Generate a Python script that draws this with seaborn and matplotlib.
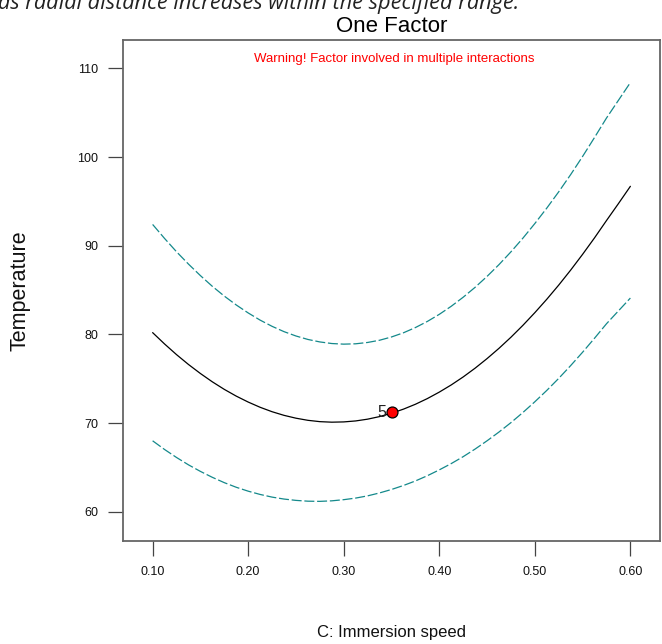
import matplotlib
matplotlib.use("Agg")
import matplotlib.pyplot as plt
import seaborn as sns
import pandas as pd

# ---- data ----
x_vals = [0.1000, 0.1125, 0.1250, 0.1375, 0.1500, 0.1625, 0.1750, 0.1875, 0.2000, 0.2125,
          0.2250, 0.2375, 0.2500, 0.2625, 0.2750, 0.2875, 0.3000, 0.3125, 0.3250, 0.3375,
          0.3500, 0.3625, 0.3750, 0.3875, 0.4000, 0.4125, 0.4250, 0.4375, 0.4500, 0.4625,
          0.4750, 0.4875, 0.5000, 0.5125, 0.5250, 0.5375, 0.5500, 0.5625, 0.5750, 0.5875,
          0.6000]
center = [80.20, 78.92, 77.72, 76.61, 75.59, 74.65, 73.80, 73.04, 72.37, 71.78,
          71.28, 70.87, 70.55, 70.31, 70.16, 70.10, 70.13, 70.24, 70.44, 70.73,
          71.11, 71.57, 72.12, 72.76, 73.49, 74.30, 75.20, 76.19, 77.27, 78.43,
          79.68, 81.02, 82.45, 83.96, 85.56, 87.25, 89.03, 90.89, 92.84, 94.75,
          96.70]
upper = [92.40, 90.82, 89.32, 87.93, 86.63, 85.42, 84.32, 83.32, 82.42, 81.61,
         80.91, 80.31, 79.82, 79.43, 79.15, 78.97, 78.90, 78.94, 79.09, 79.34,
         79.71, 80.18, 80.77, 81.46, 82.26, 83.17, 84.19, 85.31, 86.54, 87.87,
         89.31, 90.85, 92.50, 94.24, 96.08, 98.02, 100.07, 102.21, 104.40, 106.40,
         108.40]
lower = [68.00, 67.02, 66.12, 65.29, 64.55, 63.88, 63.28, 62.76, 62.32, 61.95,
         61.65, 61.43, 61.28, 61.19, 61.17, 61.23, 61.36, 61.54, 61.79, 62.12,
         62.51, 62.96, 63.47, 64.06, 64.72, 65.43, 66.21, 67.07, 68.00, 68.99,
         70.05, 71.19, 72.40, 73.68, 75.04, 76.48, 77.99, 79.57, 81.20, 82.65,
         84.10]
point_x = [0.35]
point_y = [71.2]
point_label = ["5"]
x_ticks = [0.10, 0.20, 0.30, 0.40, 0.50, 0.60]
x_tick_labels = ["0.10", "0.20", "0.30", "0.40", "0.50", "0.60"]
y_ticks = [60, 70, 80, 90, 100, 110]

title = "One Factor"
warning = "Warning! Factor involved in multiple interactions"
x_label = "C: Immersion speed"
y_label = "Temperature"
caption = "as radial distance increases within the specified range."

sns.set_style("white")
plt.rcParams["font.family"] = ["Liberation Sans", "DejaVu Sans"]

W, H = 662, 644
fig = plt.figure(figsize=(W / 100, H / 100), dpi=100)
ax = fig.add_axes([123 / W, 1 - 541 / H, (660 - 123) / W, (541 - 40) / H])

df = pd.DataFrame({"x": x_vals, "center": center, "upper": upper, "lower": lower})
teal = "#14898b"
sns.lineplot(data=df, x="x", y="center", ax=ax, color="black", linewidth=0.9)
sns.lineplot(data=df, x="x", y="upper", ax=ax, color=teal, linewidth=0.9,
             linestyle=(0, (8, 2.2)))
sns.lineplot(data=df, x="x", y="lower", ax=ax, color=teal, linewidth=0.9,
             linestyle=(0, (8, 2.2)))

pdf = pd.DataFrame({"x": point_x, "y": point_y})
sns.scatterplot(data=pdf, x="x", y="y", ax=ax, color="red", edgecolor="black",
                s=62, linewidth=0.9, zorder=5)
for px, py, lab in zip(point_x, point_y, point_label):
    ax.annotate(lab, (px, py), xytext=(-5, 0), textcoords="offset pixels",
                ha="right", va="center", fontsize=11.5, color="#222222")

ax.set_xlim(0.069, 0.631)
ax.set_ylim(56.7, 113.2)
ax.set_xticks(x_ticks)
ax.set_xticklabels(x_tick_labels)
ax.set_yticks(y_ticks)

narrow = ["Liberation Sans Narrow", "Liberation Sans", "DejaVu Sans"]
for lab in ax.get_xticklabels() + ax.get_yticklabels():
    lab.set_family(narrow)
    lab.set_fontsize(9)
    lab.set_color("#111111")

ax.tick_params(axis="both", direction="out", length=11, width=0.9, color="#444444",
               bottom=True, left=True, top=False, right=False)
ax.tick_params(axis="y", pad=7)
ax.tick_params(axis="x", pad=7)

for side in ["left", "bottom", "top", "right"]:
    ax.spines[side].set_color("#666666")
    ax.spines[side].set_linewidth(1.3)
    ax.spines[side].set_visible(True)

ax.set_xlabel(x_label, fontsize=12, family=narrow, color="#111111", va="top")
ax.xaxis.set_label_coords(0.5, -0.168)
ax.set_ylabel(y_label, fontsize=15.5, color="#111111")
ax.yaxis.set_label_coords(-0.172, 0.5)

ax.set_title(title, fontsize=16, family=narrow, color="black", pad=6)
ax.text(0.505, 0.962, warning, transform=ax.transAxes, ha="center", va="center",
        fontsize=9.5, family=narrow, color="red")

fig.text(-0.003, 1 - 9 / H, caption, ha="left", va="baseline", fontsize=15.7,
         family=["Open Sans", "DejaVu Sans"], style="italic", color="#222222")

fig.savefig("out.png", dpi=100)
